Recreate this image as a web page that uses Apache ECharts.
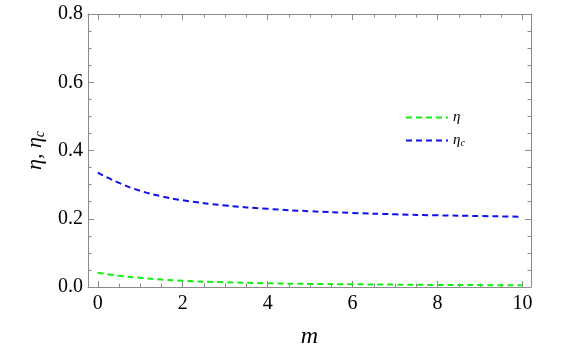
<!DOCTYPE html>
<html>
<head>
<meta charset="utf-8">
<script src="https://cdn.jsdelivr.net/npm/echarts@6/dist/echarts.min.js"></script>
<style>
  html, body { margin: 0; padding: 0; background: #fff; }
  #chart { width: 568px; height: 348px; }
</style>
</head>
<body>
<div id="chart"></div>
<script>
// m values and the two efficiency curves
const mValues = [0, 0.5, 1, 1.5, 2, 3, 4, 5, 6, 7, 8, 9, 10]
const eta = [0.042, 0.033, 0.027, 0.022, 0.018, 0.014, 0.011, 0.009, 0.008, 0.007, 0.006, 0.0055, 0.005]
const etaC = [0.335, 0.305, 0.282, 0.266, 0.254, 0.239, 0.229, 0.222, 0.217, 0.213, 0.210, 0.208, 0.206]

const xMajor = [0, 2, 4, 6, 8, 10]
const xMinor = [0, 0.5, 1, 1.5, 2, 2.5, 3, 3.5, 4, 4.5, 5, 5.5, 6, 6.5, 7, 7.5, 8, 8.5, 9, 9.5, 10]

const frameColor = '#8a8a8a'
const serif = '"Liberation Serif", "DejaVu Serif", serif'

const xMin = -0.23
const xMax = 10.2

function xAxisDef(pos, ticks, len, withLabel, withLine) {
    return {
        type: 'value',
        position: pos,
        min: xMin,
        max: xMax,
        axisLine: { show: withLine, onZero: false, lineStyle: { color: frameColor, width: 1 } },
        axisTick: { show: true, inside: true, length: len, customValues: ticks, lineStyle: { color: frameColor } },
        axisLabel: withLabel
            ? { show: true, customValues: ticks, margin: 7, color: '#000', fontFamily: serif, fontSize: 20 }
            : { show: false },
        splitLine: { show: false }
    }
}

function yAxisDef(pos, withLabel) {
    return {
        type: 'value',
        position: pos,
        min: 0,
        max: 0.8,
        interval: 0.2,
        axisLine: { show: true, onZero: false, lineStyle: { color: frameColor, width: 1 } },
        axisTick: { show: true, inside: true, length: 6, lineStyle: { color: frameColor } },
        minorTick: { show: true, splitNumber: 4, length: 3.5, lineStyle: { color: frameColor } },
        axisLabel: withLabel
            ? { show: true, margin: 5, color: '#000', fontFamily: serif, fontSize: 20, formatter: v => v.toFixed(1) }
            : { show: false },
        splitLine: { show: false }
    }
}

const bottomX = xAxisDef('bottom', xMajor, 6, true, true)
bottomX.name = 'm'
bottomX.nameLocation = 'middle'
bottomX.nameGap = 38
bottomX.nameTextStyle = { color: '#000', fontFamily: serif, fontStyle: 'italic', fontSize: 24 }

const leftY = yAxisDef('left', true)
leftY.name = '{i|η, η}{s|c}'
leftY.nameLocation = 'middle'
leftY.nameGap = 40
leftY.nameTextStyle = {
    rich: {
        i: { color: '#000', fontFamily: serif, fontStyle: 'italic', fontSize: 22 },
        s: { color: '#000', fontFamily: serif, fontStyle: 'italic', fontSize: 14, verticalAlign: 'bottom', padding: [9, 0, 0, 0] }
    }
}

const option = {
    animation: false,
    backgroundColor: '#fff',
    grid: { left: 88, right: 37, top: 14, bottom: 61, outerBoundsMode: 'none', containLabel: false },
    legend: {
        orient: 'vertical',
        left: 400,
        top: 105,
        itemWidth: 42,
        itemHeight: 10,
        itemGap: 8,
        itemStyle: { opacity: 0 },
        textStyle: {
            rich: {
                i: { color: '#000', fontFamily: serif, fontStyle: 'italic', fontSize: 15 },
                s: { color: '#000', fontFamily: serif, fontStyle: 'italic', fontSize: 10, verticalAlign: 'bottom', padding: [5, 0, 0, 0] }
            }
        },
        formatter: name => name === 'ηc' ? '{i|η}{s|c}' : '{i|η}'
    },
    xAxis: [
        bottomX,
        xAxisDef('bottom', xMinor, 3.5, false, false),
        xAxisDef('top', xMajor, 6, false, true),
        xAxisDef('top', xMinor, 3.5, false, false)
    ],
    yAxis: [leftY, yAxisDef('right', false)],
    series: [
        {
            name: 'η',
            type: 'line',
            smooth: true,
            symbol: 'none',
            data: mValues.map((m, i) => [m, eta[i]]),
            lineStyle: { color: '#11f011', width: 2, type: [6, 4] },
            itemStyle: { color: '#11f011' }
        },
        {
            name: 'ηc',
            type: 'line',
            smooth: true,
            symbol: 'none',
            data: mValues.map((m, i) => [m, etaC[i]]),
            lineStyle: { color: '#1010ee', width: 2, type: [6, 4] },
            itemStyle: { color: '#1010ee' }
        }
    ]
}

const chart = echarts.init(document.getElementById('chart'))
chart.setOption(option)
</script>
</body>
</html>
